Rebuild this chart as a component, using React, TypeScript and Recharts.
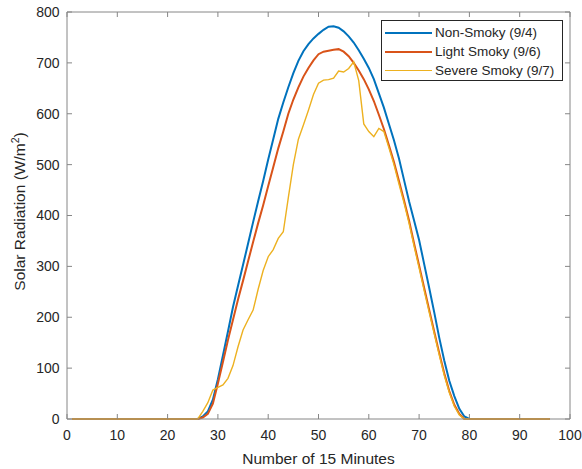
import { LineChart, Line, XAxis, YAxis } from 'recharts';

// 15-minute interval index (1..96)
const intervals = [
  1, 2, 3, 4, 5, 6, 7, 8, 9, 10, 11, 12, 13, 14, 15, 16, 17, 18, 19, 20, 21, 22, 23, 24,
  25, 26, 27, 28, 29, 30, 31, 32, 33, 34, 35, 36, 37, 38, 39, 40, 41, 42, 43, 44, 45, 46, 47, 48,
  49, 50, 51, 52, 53, 54, 55, 56, 57, 58, 59, 60, 61, 62, 63, 64, 65, 66, 67, 68, 69, 70, 71, 72,
  73, 74, 75, 76, 77, 78, 79, 80, 81, 82, 83, 84, 85, 86, 87, 88, 89, 90, 91, 92, 93, 94, 95, 96,
];

const nonSmoky = [
  0, 0, 0, 0, 0, 0, 0, 0, 0, 0, 0, 0, 0, 0, 0, 0, 0, 0, 0, 0, 0, 0, 0, 0, 0, 0,
  5, 15, 38, 78, 125, 172, 220, 262, 303, 345, 387, 428, 468, 510, 550, 590, 622, 652, 680, 704,
  723, 737, 748, 757, 765, 771, 772, 769, 762, 752, 740, 725, 708, 690, 668, 640, 612, 580, 548,
  512, 470, 428, 390, 352, 305, 258, 210, 160, 115, 75, 45, 20, 5,
  0, 0, 0, 0, 0, 0, 0, 0, 0, 0, 0, 0, 0, 0, 0, 0, 0,
];

const lightSmoky = [
  0, 0, 0, 0, 0, 0, 0, 0, 0, 0, 0, 0, 0, 0, 0, 0, 0, 0, 0, 0, 0, 0, 0, 0, 0, 0,
  3, 10, 30, 70, 112, 155, 195, 235, 272, 310, 348, 385, 420, 458, 495, 532, 565, 600, 628, 652,
  673, 690, 705, 717, 722, 724, 726, 727, 722, 713, 700, 685, 668, 648, 625, 598, 570, 538, 505,
  468, 430, 390, 345, 302, 258, 215, 172, 130, 90, 55, 28, 10, 0,
  0, 0, 0, 0, 0, 0, 0, 0, 0, 0, 0, 0, 0, 0, 0, 0, 0,
];

const severeSmoky = [
  0, 0, 0, 0, 0, 0, 0, 0, 0, 0, 0, 0, 0, 0, 0, 0, 0, 0, 0, 0, 0, 0, 0, 0, 0, 0,
  15, 32, 57, 62, 67, 80, 105, 142, 175, 195, 214, 255, 292, 319, 333, 355, 368, 435, 500, 550,
  578, 607, 638, 660, 666, 667, 670, 684, 682, 689, 702, 665, 580, 565, 555, 571, 565, 533, 500,
  462, 425, 385, 340, 297, 253, 210, 168, 126, 86, 52, 25, 8, 0,
  0, 0, 0, 0, 0, 0, 0, 0, 0, 0, 0, 0, 0, 0, 0, 0, 0,
];

const xTicks = [0, 10, 20, 30, 40, 50, 60, 70, 80, 90, 100];
const yTicks = [0, 100, 200, 300, 400, 500, 600, 700, 800];

// the last series is bound to the top/right axes so the box frame gets drawn
const SERIES = [
  { key: 'nonSmoky', name: 'Non-Smoky (9/4)', color: '#0072BD', width: 2, xId: 0, yId: 0 },
  { key: 'lightSmoky', name: 'Light Smoky (9/6)', color: '#D95319', width: 2, xId: 0, yId: 0 },
  { key: 'severeSmoky', name: 'Severe Smoky (9/7)', color: '#EDB120', width: 1.4, xId: 'top', yId: 'right' },
];

const FONT = 'Arial, "Liberation Sans", Helvetica, sans-serif';
const TEXT = '#262626';
const FRAME = '#868686';

const chartData = intervals.map((x, i) => ({
  x,
  nonSmoky: nonSmoky[i],
  lightSmoky: lightSmoky[i],
  severeSmoky: severeSmoky[i],
}));

function noTick() {
  return <g />;
}

function YTitle(props: any) {
  const vb = props.viewBox || {};
  const cx = (vb.x ?? 0) + 20;
  const cy = (vb.y ?? 0) + (vb.height ?? 0) / 2 - 4;
  return (
    <text
      x={cx}
      y={cy}
      dy="0.35em"
      transform={`rotate(-90, ${cx}, ${cy})`}
      textAnchor="middle"
      fontSize={15.5}
      fill={TEXT}
      fontFamily={FONT}
    >
      Solar Radiation (W/m
      <tspan dy={-6} fontSize={10.5}>2</tspan>
      <tspan dy={6}>)</tspan>
    </text>
  );
}

// legend drawn as an overlay box, MATLAB-style (northeast)
function LegendBox() {
  return (
    <div
      style={{
        position: 'absolute',
        left: 381,
        top: 20,
        border: '1px solid #262626',
        background: '#FFFFFF',
        width: 180,
        height: 57,
        paddingTop: 2,
        fontFamily: FONT,
        fontSize: 13.5,
        color: TEXT,
      }}
    >
      {SERIES.map((s) => (
        <div key={s.key} style={{ display: 'flex', alignItems: 'center', height: 19, paddingLeft: 3 }}>
          <span
            style={{
              display: 'inline-block',
              width: 47,
              height: 0,
              borderTop: `${s.width}px solid ${s.color}`,
              marginRight: 3,
            }}
          />
          <span style={{ whiteSpace: 'nowrap' }}>{s.name}</span>
        </div>
      ))}
    </div>
  );
}

export default function App() {
  return (
    <div style={{ position: 'absolute', left: 0, top: 0, width: 582, height: 469, background: '#FFFFFF' }}>
      <LineChart
        width={582}
        height={469}
        data={chartData}
        margin={{ top: 11, right: 11, left: 0, bottom: 0 }}
      >
        <XAxis
          dataKey="x"
          type="number"
          domain={[0, 100]}
          ticks={xTicks}
          height={50}
          tickSize={-5}
          tickMargin={16}
          tick={{ fontSize: 14, fill: TEXT, fontFamily: FONT }}
          axisLine={{ stroke: FRAME }}
          tickLine={{ stroke: FRAME }}
          label={{
            value: 'Number of 15 Minutes',
            position: 'insideBottom',
            offset: 5,
            fontSize: 15.5,
            fill: TEXT,
            fontFamily: FONT,
          }}
        />
        <XAxis
          xAxisId="top"
          orientation="top"
          dataKey="x"
          type="number"
          domain={[0, 100]}
          ticks={xTicks}
          height={1}
          tickSize={-5}
          tick={noTick}
          axisLine={{ stroke: FRAME }}
          tickLine={{ stroke: FRAME }}
        />
        <YAxis
          type="number"
          domain={[0, 800]}
          ticks={yTicks}
          width={67}
          tickSize={-5}
          tickMargin={12.5}
          tick={{ fontSize: 14, fill: TEXT, fontFamily: FONT }}
          axisLine={{ stroke: FRAME }}
          tickLine={{ stroke: FRAME }}
          label={<YTitle />}
        />
        <YAxis
          yAxisId="right"
          orientation="right"
          type="number"
          domain={[0, 800]}
          ticks={yTicks}
          width={1}
          tickSize={-5}
          tick={noTick}
          axisLine={{ stroke: FRAME }}
          tickLine={{ stroke: FRAME }}
        />
        {SERIES.map((s) => (
          <Line
            key={s.key}
            dataKey={s.key}
            name={s.name}
            xAxisId={s.xId}
            yAxisId={s.yId}
            type="linear"
            stroke={s.color}
            strokeWidth={s.width}
            dot={false}
            activeDot={false}
            isAnimationActive={false}
          />
        ))}
      </LineChart>
      <LegendBox />
    </div>
  );
}
